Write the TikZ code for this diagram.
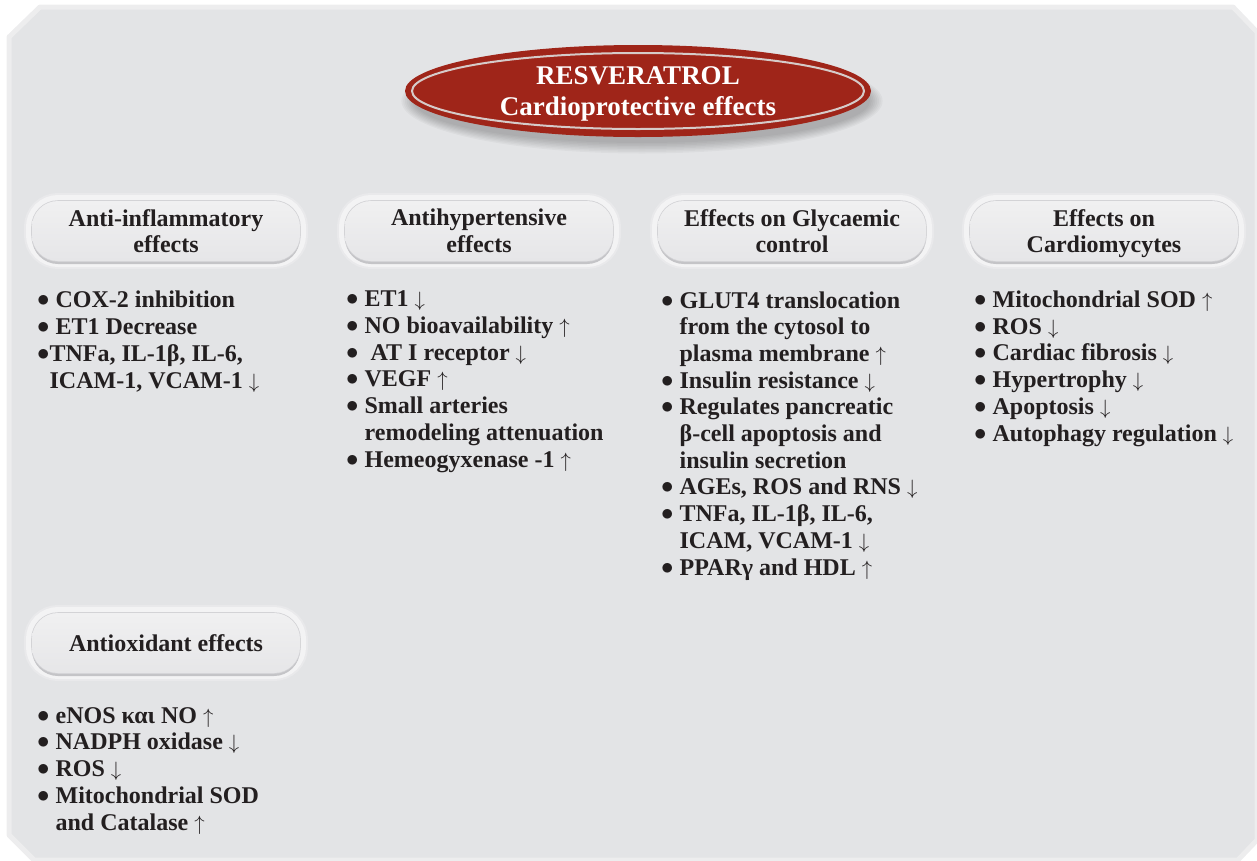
\documentclass[tikz,border=0pt]{standalone}
\usepackage{fontspec}
\setmainfont{Liberation Serif}
\usetikzlibrary{shapes.geometric}

\definecolor{bgc}{HTML}{E3E4E6}
\definecolor{bgedge}{HTML}{EDEDEE}
\definecolor{ttlred}{HTML}{9F2519}
\definecolor{ttlring}{HTML}{D6CBC9}
\definecolor{txt}{HTML}{231F20}
\definecolor{halo}{HTML}{F3F3F4}
\definecolor{haloedge}{HTML}{E9E9EB}
\definecolor{boxtop}{HTML}{F0F0F1}
\definecolor{boxbot}{HTML}{E6E6E8}
\definecolor{boxshadow}{HTML}{C4C4C7}
\definecolor{boxrim}{HTML}{D3D3D6}

\newcommand\up{{\fontsize{21}{21}\selectfont$\uparrow$}}
\newcommand\dn{{\fontsize{21}{21}\selectfont$\downarrow$}}
\newcommand\bul{\raisebox{1pt}{$\bullet$}}

\begin{document}
\begin{tikzpicture}[x=1pt,y=-1pt,
  hdr/.style={rectangle, rounded corners=26pt, minimum width=268pt, minimum height=60pt,
    inner sep=0pt, align=center, text=txt, text depth=0pt,
    font=\fontsize{24}{26.7}\selectfont\bfseries,
    preaction={draw=haloedge, line width=16pt},
    preaction={draw=halo, line width=12pt},
    preaction={fill=boxshadow, transform canvas={yshift=-3pt}},
    preaction={draw=boxrim, line width=1.6pt},
    top color=boxtop, bottom color=boxbot},
  items/.style={anchor=base west, inner sep=0pt, align=left, text=txt,
    font=\fontsize{24}{26.7}\selectfont\bfseries},
  ttl/.style={ellipse, fill=ttlred, minimum width=466pt, minimum height=92pt,
    inner sep=0pt, align=center, text=white, text depth=0pt,
    font=\fontsize{27}{31}\selectfont\bfseries}]

\useasboundingbox (0,0) rectangle (1257,860);

% background panel
\filldraw[fill=bgc, draw=bgedge, line width=5pt, line join=round]
  (9,37) -- (40,7) -- (1233,7) -- (1257,32) -- (1257,840) -- (1238,860)
  -- (34,860) -- (9,835) -- cycle;

% soft shadow of the title ellipse
\foreach \i in {0,...,7}
  \fill[black, opacity=0.03] (642,101) ellipse [x radius=228+\i*1.8, y radius=42+\i*1.5];

% title
\node[ttl] (title) at (638,91) {RESVERATROL\\Cardioprotective effects};
\draw[ttlring, line width=2pt] (title.center) ellipse [x radius=226, y radius=38];

% headers
\node[hdr] (h1) at (166,231) {Anti-inflammatory\\effects};
\node[hdr] (h2) at (479,231) {Antihypertensive\\effects};
\node[hdr] (h3) at (792,231) {Effects on Glycaemic\\control};
\node[hdr] (h4) at (1104,231) {Effects on\\Cardiomycytes};
\node[hdr] (h5) at (166,643) {Antioxidant effects};

% lists (anchored at the baseline of their last line)
\node[items] (l1) at (37,388) {%
\bul\ COX-2 inhibition\\
\bul\ ET1 Decrease\\
\bul TNFa, IL-1β, IL-6,\\
\phantom{\bul}ICAM-1, VCAM-1 \dn};

\node[items] (l2) at (346,467) {%
\bul\ ET1 \dn\\
\bul\ NO bioavailability \up\\
\bul\ \ AT I receptor \dn\\
\bul\ VEGF \up\\
\bul\ Small arteries\\
\phantom{\bul\ }remodeling attenuation\\
\bul\ Hemeogyxenase -1 \up};

\node[items] (l3) at (661,575) {%
\bul\ GLUT4 translocation\\
\phantom{\bul\ }from the cytosol to\\
\phantom{\bul\ }plasma membrane \up\\
\bul\ Insulin resistance \dn\\
\bul\ Regulates pancreatic\\
\phantom{\bul\ }β-cell apoptosis and\\
\phantom{\bul\ }insulin secretion\\
\bul\ AGEs, ROS and RNS \dn\\
\bul\ TNFa, IL-1β, IL-6,\\
\phantom{\bul\ }ICAM, VCAM-1 \dn\\
\bul\ PPARγ and HDL \up};

\node[items] (l4) at (974,441) {%
\bul\ Mitochondrial SOD \up\\
\bul\ ROS \dn\\
\bul\ Cardiac fibrosis \dn\\
\bul\ Hypertrophy \dn\\
\bul\ Apoptosis \dn\\
\bul\ Autophagy regulation \dn};

\node[items] (l5) at (37,830) {%
\bul\ eNOS και NO \up\\
\bul\ NADPH oxidase \dn\\
\bul\ ROS \dn\\
\bul\ Mitochondrial SOD\\
\phantom{\bul\ }and Catalase \up};

\end{tikzpicture}
\end{document}
